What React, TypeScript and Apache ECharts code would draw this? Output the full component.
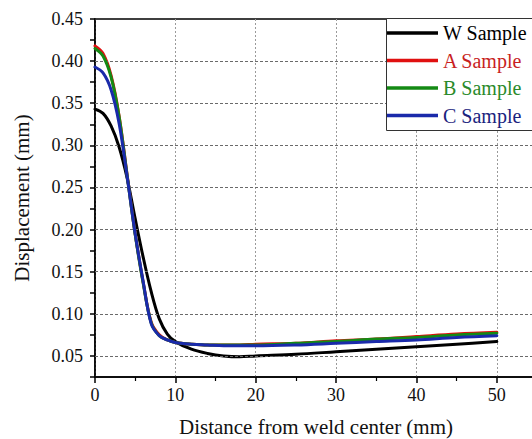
import React, { useEffect, useRef } from "react";
import * as echarts from "echarts";

const xs = [0, 1, 2, 3, 4, 5, 6, 7, 8, 9, 10, 12, 14, 16, 18, 20, 25, 30, 35, 40, 45, 50];
const wSample = [0.343, 0.338, 0.323, 0.298, 0.261, 0.213, 0.167, 0.126, 0.094, 0.076, 0.067, 0.058, 0.053, 0.050, 0.049, 0.050, 0.052, 0.055, 0.058, 0.061, 0.064, 0.067];
const aSample = [0.418, 0.409, 0.383, 0.335, 0.265, 0.195, 0.137, 0.090, 0.075, 0.069, 0.066, 0.064, 0.063, 0.063, 0.063, 0.064, 0.065, 0.068, 0.070, 0.073, 0.076, 0.078];
const bSample = [0.415, 0.406, 0.381, 0.334, 0.264, 0.194, 0.136, 0.089, 0.074, 0.069, 0.066, 0.064, 0.063, 0.063, 0.063, 0.063, 0.065, 0.067, 0.070, 0.072, 0.075, 0.077];
const cSample = [0.393, 0.386, 0.366, 0.326, 0.263, 0.195, 0.138, 0.088, 0.074, 0.069, 0.066, 0.064, 0.063, 0.062, 0.062, 0.062, 0.063, 0.065, 0.067, 0.069, 0.072, 0.074];
const seriesNames = ["W Sample", "A Sample", "B Sample", "C Sample"];
const seriesColors = ["#000000", "#e01010", "#148a14", "#1a2aaa"];
const legendTextColors = ["#000000", "#c81e1e", "#2a8a2a", "#1a237e"];
const yGridValues = [0.05, 0.1, 0.15, 0.2, 0.25, 0.3, 0.35, 0.4];

const FONT = "Liberation Serif";

export default function App() {
  const ref = useRef<HTMLDivElement>(null);
  useEffect(() => {
    if (!ref.current) return;
    const chart = echarts.init(ref.current, undefined, { renderer: "svg" });
    const allData = [wSample, aSample, bSample, cSample];
    const series: any[] = [
      {
        name: "grid",
        type: "line",
        data: [],
        z: 1,
        silent: true,
        markLine: {
          silent: true,
          symbol: "none",
          label: { show: false },
          lineStyle: { type: [3, 2], color: "#6a6a6a", width: 1 },
          data: yGridValues.map((v) => ({ yAxis: v })),
        },
      },
    ];
    allData.forEach((d, i) => {
      series.push({
        name: seriesNames[i],
        type: "line",
        data: xs.map((x, j) => [x, d[j]]),
        smooth: 0.35,
        showSymbol: false,
        symbol: "none",
        z: 3 + i,
        lineStyle: { color: seriesColors[i], width: 3, cap: "round" },
        itemStyle: { color: seriesColors[i] },
      });
    });

    const legendTop = 18;
    const rowH = 27.5;
    const firstRow = 33;
    const legendGraphic: any[] = [
      {
        type: "rect",
        left: 386,
        top: legendTop,
        shape: { x: 0, y: 0, width: 170, height: 112 },
        style: { fill: "#ffffff", stroke: "#333333", lineWidth: 1 },
        z: 100,
      },
    ];
    seriesNames.forEach((n, i) => {
      const y = firstRow + i * rowH;
      legendGraphic.push({
        type: "line",
        shape: { x1: 387, y1: y, x2: 438, y2: y },
        style: { stroke: seriesColors[i], lineWidth: 3.5 },
        z: 101,
      });
      legendGraphic.push({
        type: "text",
        x: 443,
        y: y,
        style: {
          text: n,
          fill: legendTextColors[i],
          font: `20px ${FONT}`,
          verticalAlign: "middle",
          align: "left",
        },
        z: 102,
      });
    });

    chart.setOption({
      animation: false,
      backgroundColor: "#ffffff",
      textStyle: { fontFamily: FONT },
      grid: {
        left: 95,
        right: -5,
        top: 19,
        bottom: 62,
        show: true,
        borderColor: "#000",
        borderWidth: 1.5,
        containLabel: false,
        outerBoundsMode: "none",
      },
      graphic: legendGraphic,
      xAxis: {
        type: "value",
        min: 0,
        max: 55,
        interval: 10,
        name: "Distance from weld center (mm)",
        nameLocation: "middle",
        nameGap: 39,
        nameTextStyle: { fontFamily: FONT, fontSize: 21, color: "#111" },
        axisLine: { show: true, lineStyle: { color: "#000", width: 1.5 } },
        axisTick: { show: true, length: 6, lineStyle: { color: "#000", width: 1.5 } },
        minorTick: { show: true, splitNumber: 2, length: 4, lineStyle: { color: "#000", width: 1.2 } },
        axisLabel: {
          fontFamily: FONT,
          fontSize: 18,
          color: "#111",
          margin: 9,
          formatter: (v: number) => (Math.round(v) % 10 === 0 && v <= 50 ? String(Math.round(v)) : ""),
        },
        splitLine: { show: true, lineStyle: { type: [2, 2], color: "#9a9a9a", width: 1 } },
      },
      yAxis: {
        type: "value",
        min: 0.025,
        max: 0.45,
        interval: 0.025,
        name: "Displacement (mm)",
        nameLocation: "middle",
        nameGap: 63,
        nameTextStyle: { fontFamily: FONT, fontSize: 21, color: "#111" },
        axisLine: { show: true, lineStyle: { color: "#000", width: 1.5 } },
        axisTick: { show: true, length: 5, lineStyle: { color: "#000", width: 1.5 } },
        axisLabel: {
          fontFamily: FONT,
          fontSize: 18,
          color: "#111",
          margin: 12,
          formatter: (v: number) => {
            const k = Math.round(v * 1000);
            return k % 50 === 0 ? (k / 1000).toFixed(2) : "";
          },
        },
        splitLine: { show: false },
      },
      series,
    });
    return () => chart.dispose();
  }, []);
  return (
    <div
      ref={ref}
      style={{ position: "absolute", left: 0, top: 0, width: 532, height: 439, overflow: "hidden" }}
    />
  );
}
